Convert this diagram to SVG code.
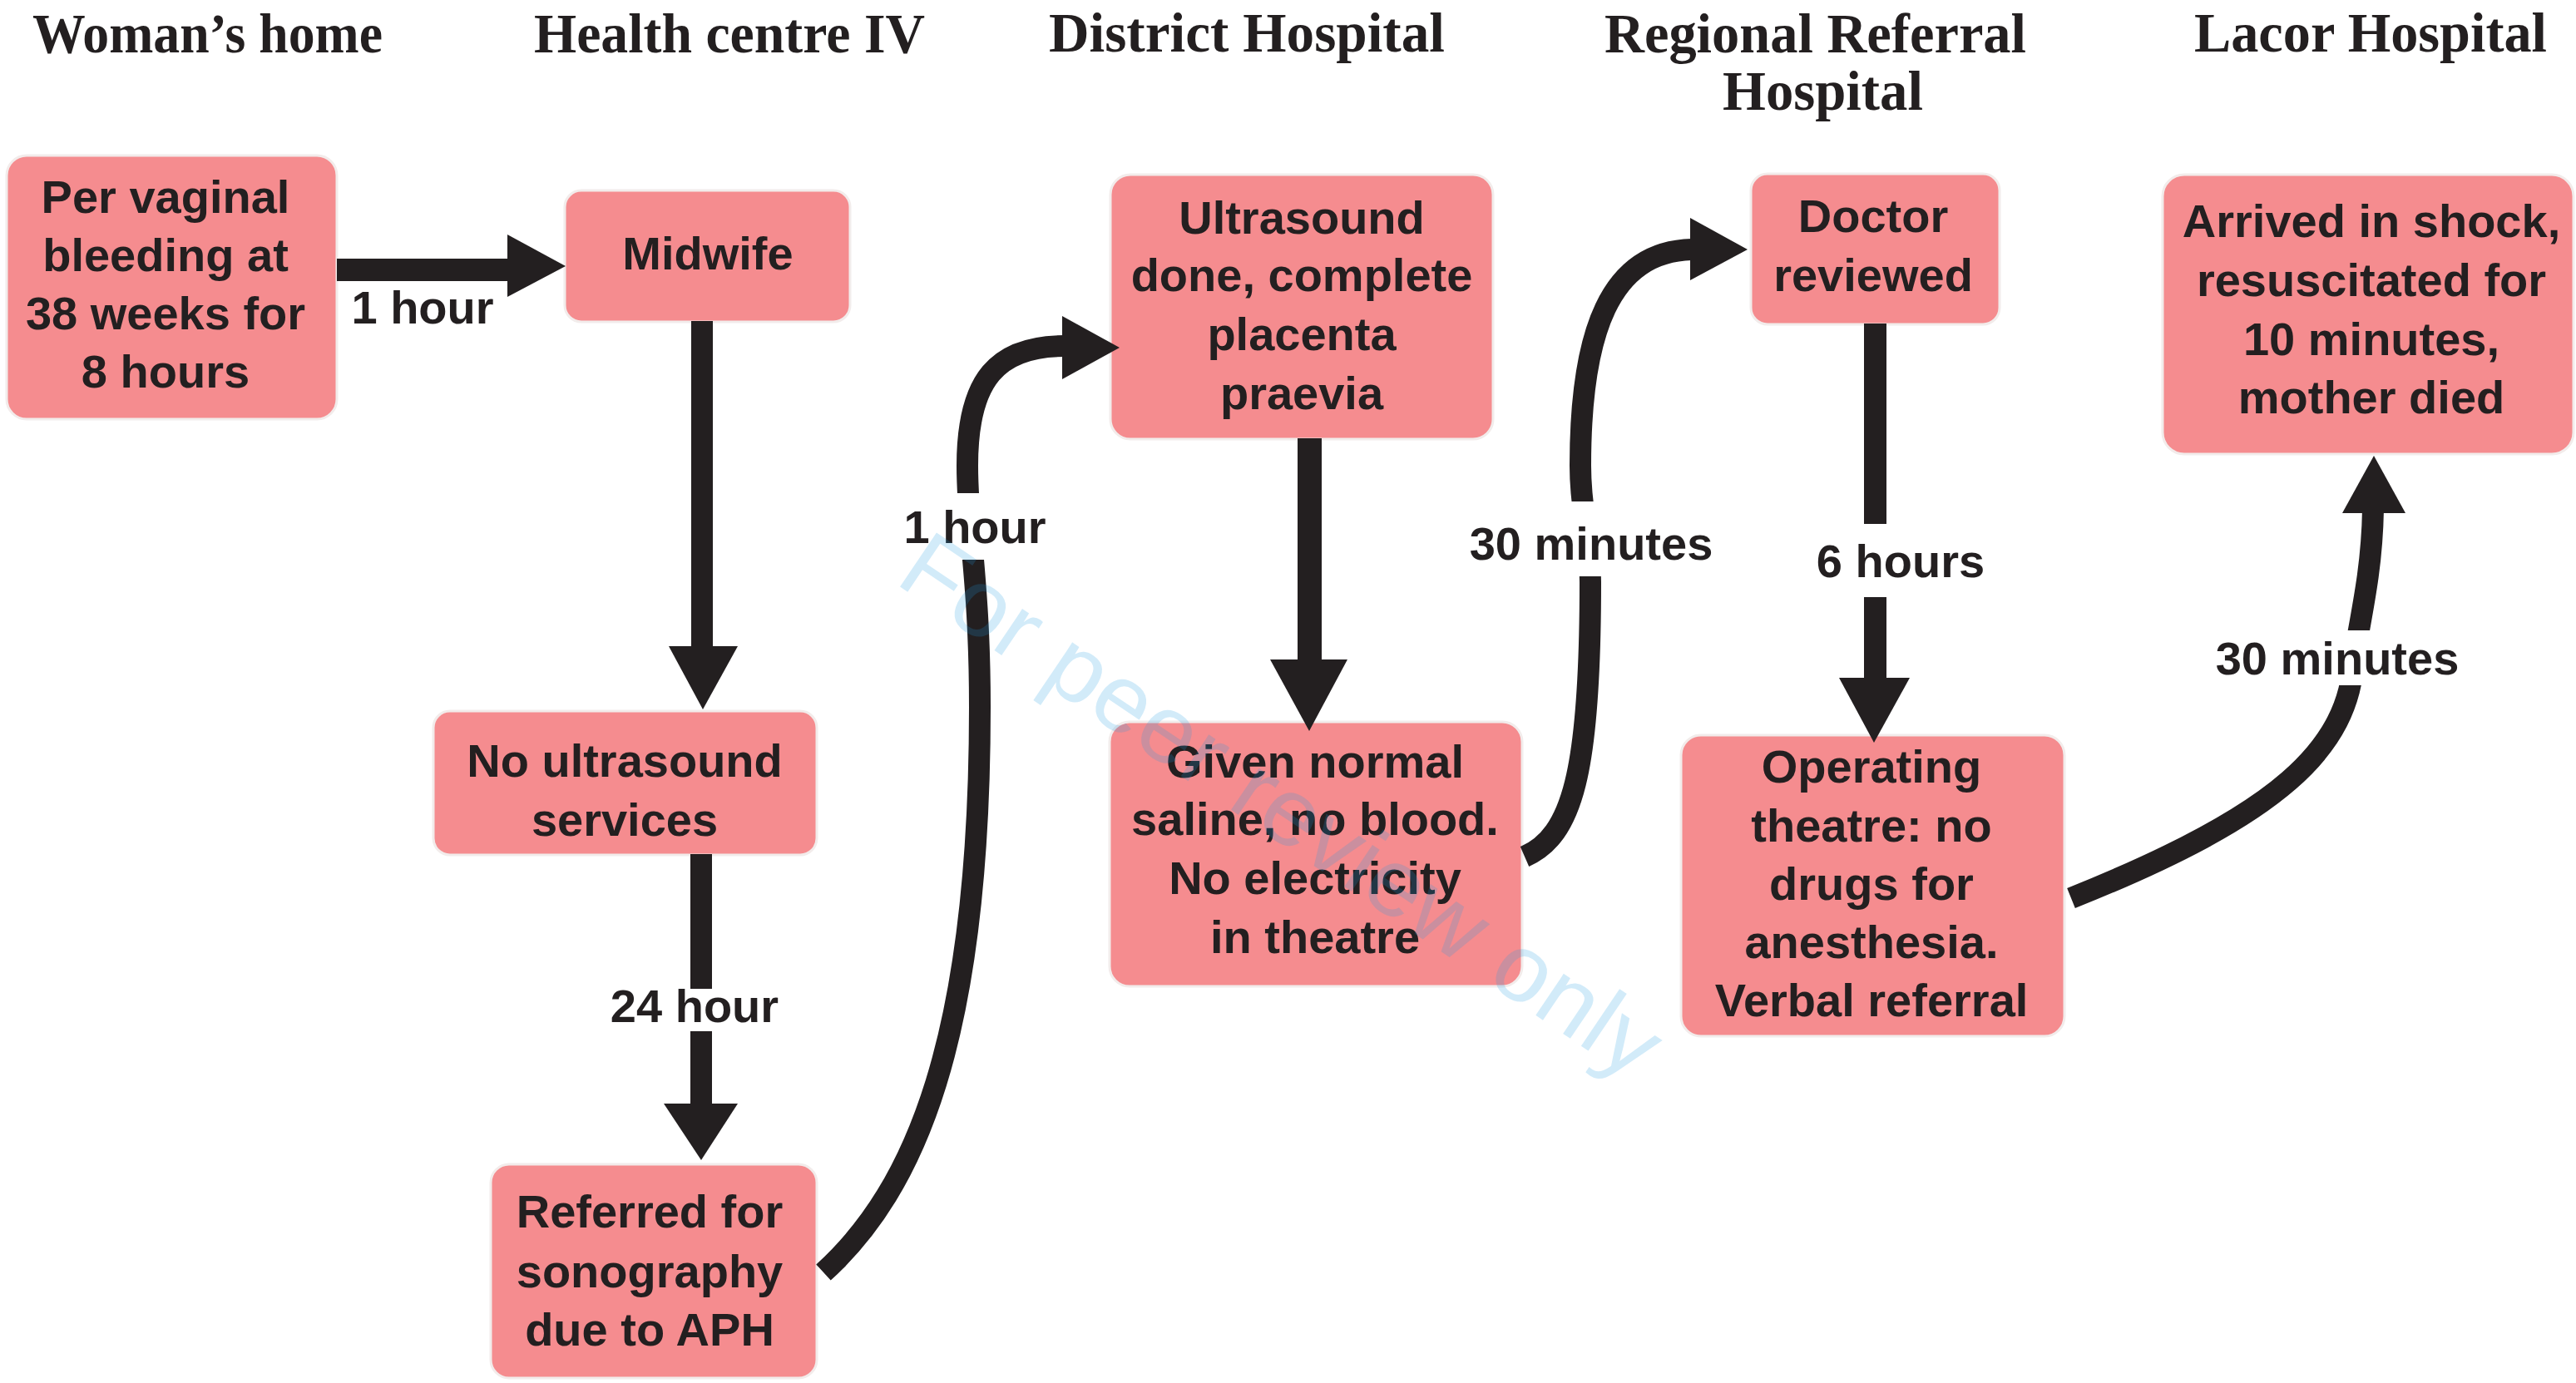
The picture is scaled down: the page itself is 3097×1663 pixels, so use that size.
<svg xmlns="http://www.w3.org/2000/svg" width="3097" height="1663" viewBox="0 0 3097 1663">
  <style>
    .hdr { font-family: "Liberation Serif", "Times New Roman", serif; font-weight: bold; font-size: 68px; fill: #231F20; }
    .box { fill: #F58C8F; stroke: #F2ECEB; stroke-width: 3; }
    .txt { font-family: "Liberation Sans", Arial, sans-serif; font-weight: bold; font-size: 56px; fill: #231F20; text-anchor: middle; }
    .lbl { font-family: "Liberation Sans", Arial, sans-serif; font-weight: bold; font-size: 56px; fill: #231F20; text-anchor: middle; }
    .shaft { fill: none; stroke: #231F20; stroke-width: 26; }
    .head { fill: #231F20; }
    .gap { fill: #FFFFFF; }
    .wm { font-family: "Liberation Sans", Arial, sans-serif; font-size: 114px; fill: #1E9BE0; fill-opacity: 0.2; }
  </style>

  <rect x="0" y="0" width="3097" height="1663" fill="#FFFFFF"/>

  <!-- column headings -->
  <g id="headings">
    <text class="hdr" x="39" y="63" textLength="421" lengthAdjust="spacingAndGlyphs">Woman’s home</text>
    <text class="hdr" x="642" y="63" textLength="470" lengthAdjust="spacingAndGlyphs">Health centre IV</text>
    <text class="hdr" x="1261" y="62" textLength="476" lengthAdjust="spacingAndGlyphs">District Hospital</text>
    <text class="hdr" x="1929" y="63" textLength="507" lengthAdjust="spacingAndGlyphs">Regional Referral</text>
    <text class="hdr" x="2071" y="132" textLength="241" lengthAdjust="spacingAndGlyphs">Hospital</text>
    <text class="hdr" x="2638" y="62" textLength="424" lengthAdjust="spacingAndGlyphs">Lacor Hospital</text>
  </g>

  <!-- steps -->
  <g id="node-bleeding">
    <rect class="box" x="8" y="187" width="397" height="317" rx="24"/>
    <text class="txt" x="199" y="256">Per vaginal</text>
    <text class="txt" x="199" y="326">bleeding at</text>
    <text class="txt" x="199" y="396">38 weeks for</text>
    <text class="txt" x="199" y="466">8 hours</text>
  </g>
  <g id="node-midwife">
    <rect class="box" x="679" y="229" width="343" height="158" rx="20"/>
    <text class="txt" x="851" y="324">Midwife</text>
  </g>
  <g id="node-no-ultrasound">
    <rect class="box" x="521" y="855" width="461" height="173" rx="20"/>
    <text class="txt" x="751" y="934">No ultrasound</text>
    <text class="txt" x="751" y="1005">services</text>
  </g>
  <g id="node-referred">
    <rect class="box" x="590" y="1400" width="392" height="257" rx="22"/>
    <text class="txt" x="781" y="1476">Referred for</text>
    <text class="txt" x="781" y="1548">sonography</text>
    <text class="txt" x="781" y="1618">due to APH</text>
  </g>
  <g id="node-ultrasound">
    <rect class="box" x="1335" y="210" width="460" height="318" rx="24"/>
    <text class="txt" x="1565" y="281">Ultrasound</text>
    <text class="txt" x="1565" y="350">done, complete</text>
    <text class="txt" x="1565" y="421">placenta</text>
    <text class="txt" x="1565" y="492">praevia</text>
  </g>
  <g id="node-saline">
    <rect class="box" x="1334" y="868" width="496" height="318" rx="24"/>
    <text class="txt" x="1581" y="935">Given normal</text>
    <text class="txt" x="1581" y="1004">saline, no blood.</text>
    <text class="txt" x="1581" y="1075">No electricity</text>
    <text class="txt" x="1581" y="1146">in theatre</text>
  </g>
  <g id="node-doctor">
    <rect class="box" x="2105" y="209" width="299" height="181" rx="20"/>
    <text class="txt" x="2252" y="279">Doctor</text>
    <text class="txt" x="2252" y="350">reviewed</text>
  </g>
  <g id="node-theatre">
    <rect class="box" x="2021" y="884" width="461" height="362" rx="24"/>
    <text class="txt" x="2250" y="941">Operating</text>
    <text class="txt" x="2250" y="1012">theatre: no</text>
    <text class="txt" x="2250" y="1082">drugs for</text>
    <text class="txt" x="2250" y="1152">anesthesia.</text>
    <text class="txt" x="2250" y="1222">Verbal referral</text>
  </g>
  <g id="node-lacor">
    <rect class="box" x="2600" y="210" width="494" height="336" rx="26"/>
    <text class="txt" x="2851" y="285">Arrived in shock,</text>
    <text class="txt" x="2851" y="356">resuscitated for</text>
    <text class="txt" x="2851" y="427">10 minutes,</text>
    <text class="txt" x="2851" y="497">mother died</text>
  </g>

  <!-- transfers between steps -->
  <g id="connectors">
    <!-- home to midwife -->
    <rect class="head" x="405" y="311" width="207" height="27"/>
    <polygon class="head" points="610,282 680,320 610,357"/>

    <!-- midwife to no ultrasound -->
    <rect class="head" x="831" y="386" width="26" height="394"/>
    <polygon class="head" points="804,777 887,777 845,853"/>

    <!-- no ultrasound to referral -->
    <rect class="head" x="830" y="1027" width="26" height="302"/>
    <polygon class="head" points="798,1327 887,1327 843,1395"/>

    <!-- referral to district hospital -->
    <path class="shaft" d="M 990 1530 C 1100 1430, 1178 1250, 1178 850 C 1178 700, 1163 640, 1163 560 C 1163 455, 1200 416, 1280 416"/>
    <polygon class="head" points="1277,380 1346,418 1277,456"/>

    <!-- ultrasound to saline -->
    <rect class="head" x="1560" y="527" width="29" height="268"/>
    <polygon class="head" points="1527,793 1620,793 1574,879"/>

    <!-- saline to regional doctor -->
    <path class="shaft" d="M 1833 1030 C 1890 1005, 1912 930, 1912 700 C 1912 640, 1900 620, 1900 560 C 1900 400, 1935 302, 2035 300"/>
    <polygon class="head" points="2032,262 2101,300 2032,337"/>

    <!-- doctor to theatre -->
    <rect class="head" x="2241" y="389" width="27" height="428"/>
    <polygon class="head" points="2211,815 2296,815 2253,893"/>

    <!-- theatre to Lacor -->
    <path class="shaft" d="M 2490 1080 C 2740 980, 2825 900, 2830 790 C 2845 710, 2852 670, 2853 612"/>
    <polygon class="head" points="2816,617 2892,617 2854,548"/>

    <!-- breaks in the lines behind labels -->
    <rect class="gap" x="815" y="1189" width="56" height="51"/>
    <rect class="gap" x="1140" y="593" width="60" height="80"/>
    <rect class="gap" x="1875" y="603" width="60" height="90"/>
    <rect class="gap" x="2230" y="630" width="50" height="88"/>
    <rect class="gap" x="2800" y="758" width="70" height="66"/>

    <text class="lbl" x="508" y="389">1 hour</text>
    <text class="lbl" x="835" y="1229">24 hour</text>
    <text class="lbl" x="1172" y="653">1 hour</text>
    <text class="lbl" x="1913" y="673">30 minutes</text>
    <text class="lbl" x="2285" y="694">6 hours</text>
    <text class="lbl" x="2810" y="811">30 minutes</text>
  </g>

  <!-- review watermark -->
  <text class="wm" x="1074" y="700" transform="rotate(34 1074 700)" textLength="1075" lengthAdjust="spacingAndGlyphs">For peer review only</text>
</svg>
